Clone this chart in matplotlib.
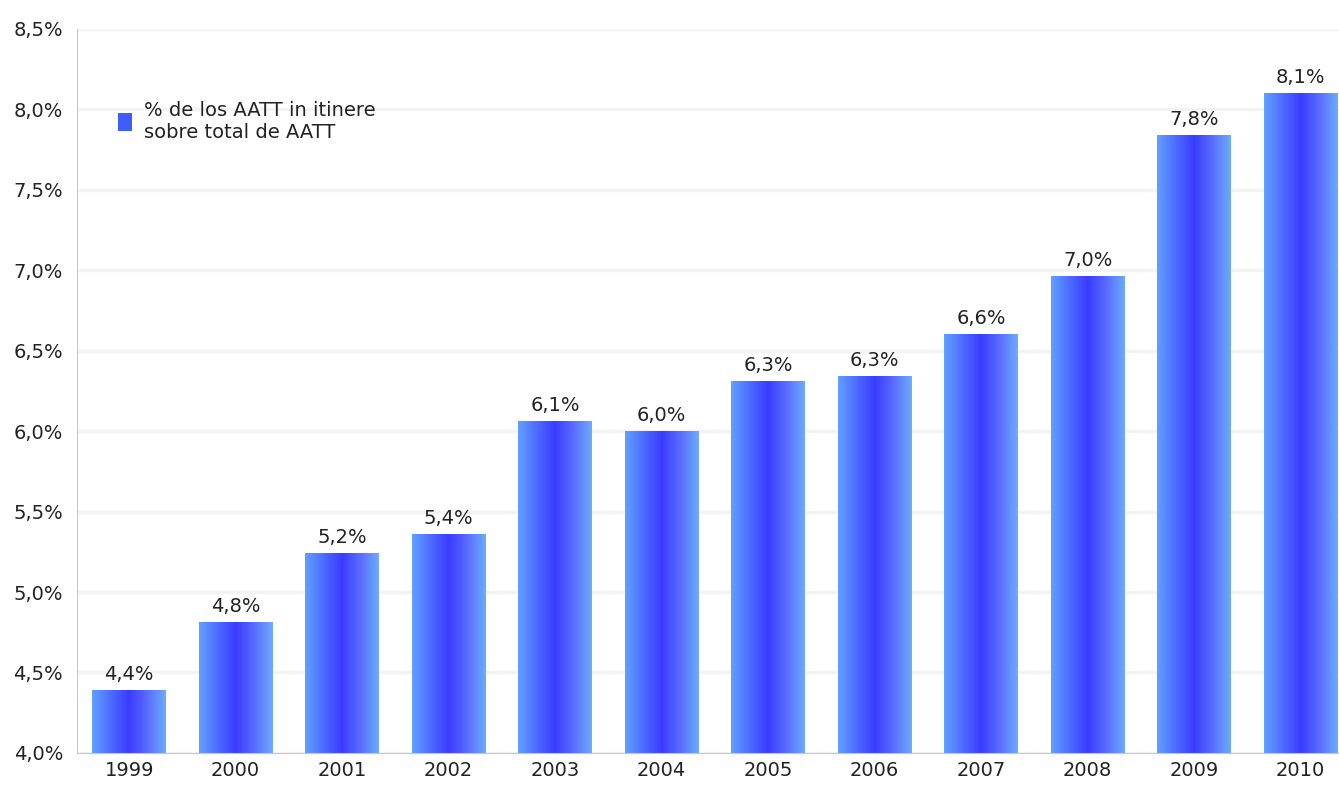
import numpy as np
import matplotlib
matplotlib.use("Agg")
import matplotlib.pyplot as plt
from matplotlib.colors import LinearSegmentedColormap
from matplotlib.patches import Patch

# Datos: % de accidentes de trabajo in itinere sobre el total
anios = ["1999", "2000", "2001", "2002", "2003", "2004",
         "2005", "2006", "2007", "2008", "2009", "2010"]
porcentaje = [4.39, 4.81, 5.24, 5.36, 6.06, 6.00,
              6.31, 6.34, 6.60, 6.96, 7.84, 8.10]
ticks_y = [4.0, 4.5, 5.0, 5.5, 6.0, 6.5, 7.0, 7.5, 8.0, 8.5]
etiqueta_serie = "% de los AATT in itinere\nsobre total de AATT"


def fmt_pct(v):
    # formato con coma decimal, como en el original
    return f"{v:.1f}".replace(".", ",") + "%"


plt.rcParams["font.family"] = ["DejaVu Sans"]
texto = "#222222"

# degradado horizontal de las barras: claro - oscuro - claro
grad = LinearSegmentedColormap.from_list(
    "barras",
    [(0.0, "#62a0ff"), (0.3, "#4a62ff"), (0.5, "#3a3cff"),
     (0.75, "#5a6cff"), (1.0, "#6cacff")])

fig = plt.figure(figsize=(13.39, 7.88), dpi=100)
ax = fig.add_axes([0.0575, 0.0445, 0.9425, 0.919])

x = np.arange(len(anios))
barras = ax.bar(x, porcentaje, width=0.69, color="none", edgecolor="none")

gradiente = np.linspace(0, 1, 256).reshape(1, -1)
for rect, v in zip(barras, porcentaje):
    x0 = rect.get_x()
    ax.imshow(gradiente, cmap=grad, aspect="auto", interpolation="bilinear",
              extent=(x0, x0 + rect.get_width(), 0, v), zorder=2)
    ax.text(rect.get_x() + rect.get_width() / 2, v + 0.04, fmt_pct(v),
            ha="center", va="bottom", fontsize=14, color=texto, zorder=3)

ax.set_xlim(-0.49, len(anios) - 1 + 0.36)
ax.set_ylim(ticks_y[0], ticks_y[-1])
ax.set_xticks(x)
ax.set_xticklabels(anios)
ax.set_yticks(ticks_y)
ax.set_yticklabels([fmt_pct(t) for t in ticks_y])

ax.tick_params(axis="both", length=0, labelsize=14, labelcolor=texto)
ax.tick_params(axis="x", pad=6)
ax.tick_params(axis="y", pad=10)

ax.grid(axis="y", color="#f3f3f3", linewidth=2.5, zorder=0)
ax.set_axisbelow(True)
for lado in ["top", "right"]:
    ax.spines[lado].set_visible(False)
ax.spines["left"].set_color("#c8c8c8")
ax.spines["bottom"].set_color("#c8c8c8")

ax.legend(handles=[Patch(facecolor="#3f5cff", edgecolor="none",
                         label=etiqueta_serie)],
          loc="upper left", bbox_to_anchor=(0.019, 0.925), frameon=False,
          fontsize=14, handlelength=0.7, handleheight=1.0,
          handletextpad=0.6, labelcolor=texto)

fig.savefig("out.png", dpi=100, facecolor="white")
